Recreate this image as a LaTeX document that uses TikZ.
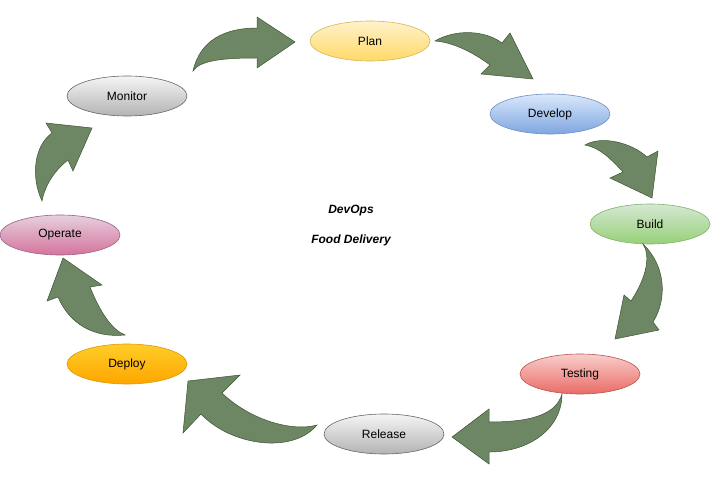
\documentclass[tikz,border=0pt]{standalone}
\usepackage{fontspec}
\setmainfont{Liberation Sans}
\usetikzlibrary{shapes.geometric}
\definecolor{arrfill}{HTML}{6D8764}
\definecolor{arrdraw}{HTML}{3A5431}
\definecolor{yelT}{HTML}{FFF2CC}\definecolor{yelB}{HTML}{FFD966}\definecolor{yelD}{HTML}{D6B656}
\definecolor{bluT}{HTML}{DAE8FC}\definecolor{bluB}{HTML}{7EA6E0}\definecolor{bluD}{HTML}{6C8EBF}
\definecolor{grnT}{HTML}{D5E8D4}\definecolor{grnB}{HTML}{97D077}\definecolor{grnD}{HTML}{82B366}
\definecolor{redT}{HTML}{F8CECC}\definecolor{redB}{HTML}{EA6B66}\definecolor{redD}{HTML}{B85450}
\definecolor{gryT}{HTML}{F5F5F5}\definecolor{gryB}{HTML}{B3B3B3}\definecolor{gryD}{HTML}{666666}
\definecolor{orgT}{HTML}{FFCD28}\definecolor{orgB}{HTML}{FFA500}\definecolor{orgD}{HTML}{D79B00}
\definecolor{pnkT}{HTML}{E6D0DE}\definecolor{pnkB}{HTML}{D5739D}\definecolor{pnkD}{HTML}{996185}
\tikzset{
  stage/.style={ellipse, minimum width=120pt, minimum height=40pt, inner sep=0pt,
    font=\fontsize{12}{14}\selectfont, line width=0.6pt},
  blockarrow/.style={fill=arrfill, draw=arrdraw, line width=0.5pt, line join=miter},
  title/.style={font=\fontsize{12}{14}\selectfont\bfseries\itshape}
}
\begin{document}
\begin{tikzpicture}[x=1pt,y=-1pt]
\useasboundingbox (0,0) rectangle (711,497);
% stages
\node[stage, top color=yelT, bottom color=yelB, draw=yelD] (plan) at (370,41) {Plan};
\node[stage, top color=bluT, bottom color=bluB, draw=bluD] (develop) at (550,114) {Develop};
\node[stage, top color=grnT, bottom color=grnB, draw=grnD] (build) at (650,224) {Build};
\node[stage, top color=redT, bottom color=redB, draw=redD] (testing) at (580,374) {Testing};
\node[stage, top color=gryT, bottom color=gryB, draw=gryD] (release) at (384,434) {Release};
\node[stage, top color=orgT, bottom color=orgB, draw=orgD] (deploy) at (127,364) {Deploy};
\node[stage, top color=pnkT, bottom color=pnkB, draw=pnkD] (operate) at (60,235) {Operate};
\node[stage, top color=gryT, bottom color=gryB, draw=gryD] (monitor) at (127,96) {Monitor};
% centre text
\node[title] (devops) at (351,211) {DevOps};
\node[title] (food) at (351,240) {Food Delivery};
% curved block arrows
% Monitor -> Plan
\draw[blockarrow] (193,71) .. controls (200,40) and (225,28) .. (257,28) -- (257,17) -- (295,42) -- (257,68) -- (257,58)
  .. controls (225,58) and (200,60) .. cycle;
% Plan -> Develop
\draw[blockarrow] (435,41) .. controls (455,29) and (485,30) .. (502,43) -- (510,33) -- (533,79) -- (481,74) -- (490,65)
  .. controls (470,50) and (450,42) .. cycle;
% Develop -> Build
\draw[blockarrow] (585,145) .. controls (602,135) and (632,143) .. (647,157) -- (658,151) -- (652,198) -- (610,178) -- (623,172)
  .. controls (610,158) and (600,148) .. cycle;
% Build -> Testing
\draw[blockarrow] (643,244) .. controls (665,265) and (668,298) .. (653,322) -- (659,330) -- (615,339) -- (624,295) -- (631,301)
  .. controls (648,275) and (650,255) .. cycle;
% Testing -> Release
\draw[blockarrow] (562,394) .. controls (562,428) and (530,452) .. (489,452) -- (489,464) -- (452,437) -- (489,409) -- (489,422)
  .. controls (530,422) and (556,415) .. cycle;
% Release -> Deploy
\draw[blockarrow] (317,425) .. controls (292,432) and (250,420) .. (222,393) -- (240,375) -- (188,381) -- (183,433) -- (201,414)
  .. controls (230,445) and (292,455) .. cycle;
% Deploy -> Operate
\draw[blockarrow] (125,335) .. controls (112,330) and (100,312) .. (90,287) -- (102,285) -- (63,258) -- (47,301) -- (58,297)
  .. controls (70,325) and (95,338) .. cycle;
% Operate -> Monitor
\draw[blockarrow] (42,201) .. controls (30,175) and (35,145) .. (52,133) -- (46,123) -- (92,128) -- (73,171) -- (68,160)
  .. controls (55,170) and (45,185) .. cycle;
\end{tikzpicture}
\end{document}
